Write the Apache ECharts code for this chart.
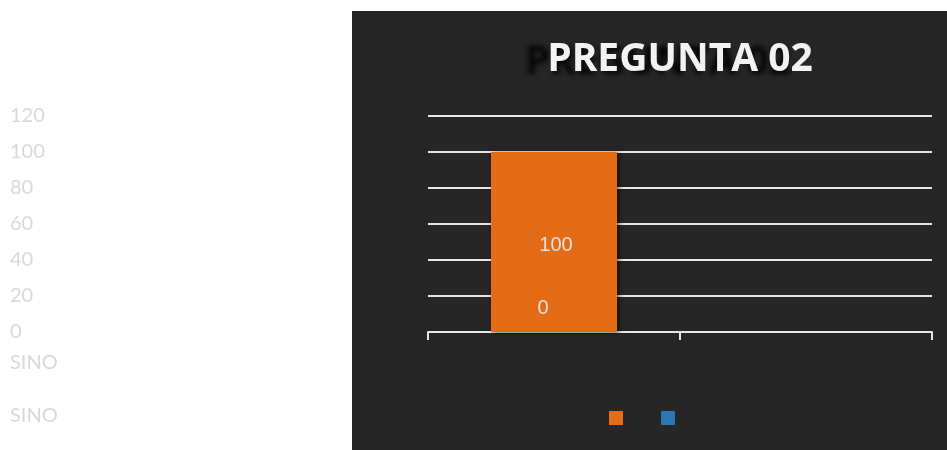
<!DOCTYPE html>
<html><head><meta charset="utf-8">
<script src="https://cdn.jsdelivr.net/npm/echarts@6/dist/echarts.min.js"></script>
<style>html,body{margin:0;padding:0;background:#fff}#c{width:947px;height:450px}</style>
</head><body><div id="c"></div>
<script>
const titleText = 'PREGUNTA 02';
const categories = ['SI', 'NO'];
const seriesNames = ['SI', 'NO'];
const siValues = [100, null];
const noValues = [0, null];
const yMin = 0, yMax = 120, yStep = 20;

const chart = echarts.init(document.getElementById('c'), null, {renderer: 'canvas'});
const ghost = '#d9d9d9';
chart.setOption({
  backgroundColor: '#ffffff',
  animation: false,
  title: {
    text: titleText, left: 675, top: 35, textAlign: 'center',
    textStyle: {
      color: '#f2f2f2', fontFamily: 'Open Sans', fontWeight: 'bold', fontSize: 39,
      textShadowColor: 'rgba(0,0,0,0.9)', textShadowBlur: 5, textShadowOffsetX: -22, textShadowOffsetY: 3
    }
  },
  graphic: [
    {type: 'rect', z: -10, silent: true, shape: {x: 352, y: 11, width: 595, height: 439}, style: {fill: '#262626'}},
    {type: 'text', left: 10, top: 353, style: {text: categories.join(''), fill: ghost, font: '20px Lato'}},
    {type: 'text', left: 10, top: 406, style: {text: seriesNames.join(''), fill: ghost, font: '20px Lato'}}
  ],
  legend: {
    left: 604, top: 406, itemWidth: 14, itemHeight: 14, itemGap: 38, icon: 'rect',
    formatter: () => '', data: seriesNames
  },
  grid: {left: 428, right: 15, top: 116, bottom: 118},
  xAxis: {
    type: 'category', data: categories,
    axisLine: {lineStyle: {color: '#e6e6e6', width: 2}},
    axisTick: {show: true, length: 8, lineStyle: {color: '#e6e6e6', width: 2}},
    axisLabel: {show: false}
  },
  yAxis: {
    type: 'value', min: yMin, max: yMax, interval: yStep,
    axisLine: {show: false}, axisTick: {show: false},
    splitLine: {lineStyle: {color: '#e6e6e6', width: 2}},
    axisLabel: {align: 'left', margin: 418, color: ghost, fontFamily: 'Lato', fontSize: 20}
  },
  series: [
    {
      name: seriesNames[0], type: 'bar', data: siValues, barWidth: 126, barGap: '-100%',
      itemStyle: {color: '#e46c17', shadowColor: 'rgba(0,0,0,0.55)', shadowBlur: 5, shadowOffsetX: 2, shadowOffsetY: 1},
      label: {show: true, position: 'inside', offset: [2, 3], color: '#e0e0e0', fontFamily: 'Liberation Sans', fontSize: 20}
    },
    {
      name: seriesNames[1], type: 'bar', data: noValues, barWidth: 126,
      itemStyle: {color: '#2e75b6'},
      label: {show: true, position: 'insideBottom', distance: 14, offset: [-11, 0], color: '#e0e0e0', fontFamily: 'Liberation Sans', fontSize: 20}
    }
  ]
});
</script></body></html>
